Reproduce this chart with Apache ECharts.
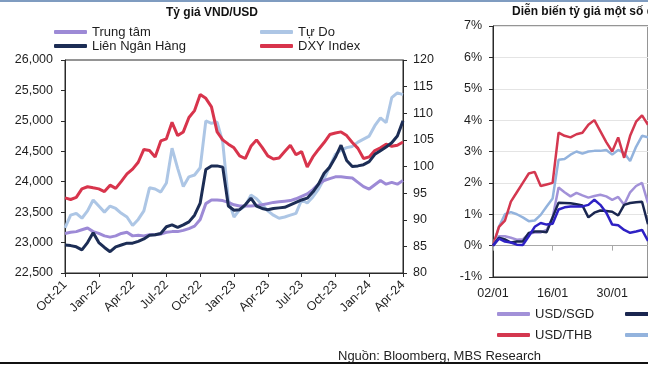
<!DOCTYPE html>
<html><head><meta charset="utf-8">
<script src="https://cdn.jsdelivr.net/npm/echarts@6/dist/echarts.min.js"></script>
<style>html,body{margin:0;padding:0;background:#fff;overflow:hidden}#c{width:648px;height:365px}</style>
</head><body><div id="c"></div>
<script>
// ---- Left chart: Tỷ giá VND/USD (semi-monthly readings) ----
const dates = [
'2021-10-01','2021-10-15','2021-11-01','2021-11-15','2021-12-01','2021-12-15',
'2022-01-01','2022-01-15','2022-02-01','2022-02-15','2022-03-01','2022-03-15',
'2022-04-01','2022-04-15','2022-05-01','2022-05-15','2022-06-01','2022-06-15',
'2022-07-01','2022-07-15','2022-08-01','2022-08-15','2022-09-01','2022-09-15',
'2022-10-01','2022-10-15','2022-11-01','2022-11-15','2022-12-01','2022-12-15',
'2023-01-01','2023-01-15','2023-02-01','2023-02-15','2023-03-01','2023-03-15',
'2023-04-01','2023-04-15','2023-05-01','2023-05-15','2023-06-01','2023-06-15',
'2023-07-01','2023-07-15','2023-08-01','2023-08-15','2023-09-01','2023-09-15',
'2023-10-01','2023-10-15','2023-11-01','2023-11-15','2023-12-01','2023-12-15',
'2024-01-01','2024-01-15','2024-02-01','2024-02-15','2024-03-01','2024-03-15',
'2024-04-01'];
const xTickLabels = ['Oct-21','Jan-22','Apr-22','Jul-22','Oct-22','Jan-23','Apr-23','Jul-23','Oct-23','Jan-24','Apr-24'];
const trungTam = [23150,23170,23180,23210,23240,23180,23150,23110,23090,23110,
 23150,23170,23110,23120,23110,23130,23130,23140,23170,23180,
 23180,23200,23230,23270,23380,23640,23700,23700,23690,23660,
 23620,23600,23600,23600,23610,23620,23640,23660,23670,23680,
 23690,23720,23760,23800,23870,23960,24020,24050,24080,24080,
 24070,24060,23990,23920,23880,23950,24020,23960,23990,23960,
 24020];
const lienNganHang = [22960,22950,22930,22880,23000,23160,23000,22920,22850,22930,
 22960,22990,22990,23020,23060,23120,23130,23150,23260,23290,
 23250,23290,23340,23450,23650,24200,24260,24260,24240,23600,
 23530,23540,23620,23730,23600,23560,23540,23560,23570,23580,
 23620,23660,23700,23730,23830,23960,24140,24240,24400,24600,
 24350,24250,24260,24280,24330,24450,24510,24570,24640,24750,
 25000];
const tuDo = [23240,23450,23480,23400,23520,23700,23600,23500,23600,23560,
 23480,23420,23280,23380,23520,23900,23880,23830,23980,24550,
 24220,23920,24080,24110,24230,25000,24960,24980,24650,23700,
 23420,23540,23600,23780,23720,23620,23520,23450,23400,23420,
 23450,23480,23700,23650,23750,23880,24050,24250,24450,24520,
 24560,24580,24650,24700,24750,24920,25050,24970,25380,25460,
 25430];
const dxy = [94.1,93.8,94.2,95.8,96.2,96.0,95.8,95.3,96.5,95.9,
 97.2,98.6,99.5,100.8,103.2,103.0,101.8,104.8,105.2,108.3,
 105.8,106.5,109.2,110.5,113.5,112.8,111.2,106.5,105.0,104.2,
 103.5,102.0,101.5,103.8,105.0,103.6,102.0,101.4,101.6,102.8,
 104.0,102.2,102.8,99.9,101.8,103.2,104.5,106.0,106.3,106.5,
 105.8,104.5,103.4,101.5,101.8,103.0,103.5,104.2,103.8,104.0,
 104.6];

// ---- Right chart: % change since 02/01 (business days) ----
const rDates = ['02/01','03/01','04/01','05/01','08/01','09/01','10/01','11/01','12/01','15/01',
 '16/01','17/01','18/01','19/01','22/01','23/01','24/01','25/01','26/01','29/01',
 '30/01','31/01','01/02','02/02','05/02','06/02','07/02'];
const usdSgd = [0,0.3,0.3,0.25,0.19,0.2,0.38,0.42,0.42,0.5,0.9,1.85,1.7,1.57,1.68,1.6,1.53,1.58,1.62,1.57,1.46,1.55,1.3,1.7,1.9,2.0,1.35];
const usdThb = [0,0.6,0.8,1.4,1.7,2.0,2.3,2.35,1.9,1.95,2.0,3.6,3.5,3.45,3.55,3.6,3.85,4.0,3.65,3.3,3.0,3.45,2.8,3.5,3.95,4.15,3.85];
const usdCny = [0,0.25,0.2,0.1,0.13,0.13,0.4,0.45,0.45,0.43,0.9,1.37,1.36,1.35,1.32,1.28,0.9,1.05,1.12,1.1,1.08,0.96,1.3,1.36,1.38,1.4,0.68];
const usdKrw = [0,0.6,1.0,1.07,1.0,0.9,0.78,0.8,0.98,1.25,1.5,2.74,2.76,2.9,3.0,2.93,3.0,3.02,3.02,3.05,2.9,3.05,2.95,2.7,3.15,3.5,3.45];
const usdMyr = [0,0.22,0.13,0.1,0.03,0.02,0.3,0.6,0.72,0.67,0.7,1.15,1.22,1.25,1.25,1.25,1.3,1.46,1.3,1.05,0.67,0.65,0.5,0.41,0.45,0.5,0.15];

const FONT = 'Liberation Sans, Arial, sans-serif';
const TXT = '#1e1e1e';
const AX = '#2a2a2a';

function lg(name, left, top) {
  return {data:[name], left, top, padding:0, itemWidth:33, itemHeight:4, icon:'roundRect',
    selectedMode:false, textStyle:{fontSize:13, color:TXT, fontFamily:FONT}};
}
function line(name, data, color, xi, yi, w) {
  return {name, type:'line', data, xAxisIndex:xi, yAxisIndex:yi, color,
    lineStyle:{width:w, color}, showSymbol:false, symbol:'none', animation:false};
}

const chart = echarts.init(document.getElementById('c'), null, {renderer:'canvas'});
chart.setOption({
  animation:false,
  textStyle:{fontFamily:FONT},
  grid:[
    {left:65, top:60, width:338, height:213, show:true, borderColor:AX, borderWidth:1},
    {left:493, top:26, width:156, height:251, show:true, borderColor:AX, borderWidth:1}
  ],
  xAxis:[
    {gridIndex:0, type:'category', data:dates, boundaryGap:false,
     axisLine:{lineStyle:{color:AX}}, axisTick:{interval:5, length:4, lineStyle:{color:AX}},
     axisLabel:{interval:5, rotate:45, margin:10, fontSize:12.5, color:TXT, fontFamily:FONT,
       formatter:(v, i) => xTickLabels[Math.round(i/6)]}},
    {gridIndex:1, type:'category', data:rDates, boundaryGap:false, position:'bottom',
     axisLine:{onZero:false, lineStyle:{color:AX}}, axisTick:{show:false},
     axisLabel:{interval:9, margin:10, fontSize:12.5, color:TXT, fontFamily:FONT}},
    {gridIndex:1, type:'category', data:rDates, boundaryGap:false, position:'bottom',
     axisLine:{onZero:true, lineStyle:{color:'#a8a8a8'}},
     axisTick:{interval:9, length:5, lineStyle:{color:'#a8a8a8'}}, axisLabel:{show:false}}
  ],
  yAxis:[
    {gridIndex:0, type:'value', min:22500, max:26000, interval:500, position:'left',
     axisLine:{show:true, lineStyle:{color:AX}}, axisTick:{show:true, length:4, lineStyle:{color:AX}},
     splitLine:{show:false},
     axisLabel:{margin:12, fontSize:12.5, color:TXT, fontFamily:FONT, formatter:v => v.toLocaleString('en-US')}},
    {gridIndex:0, type:'value', min:80, max:120, interval:5, position:'right',
     axisLine:{show:true, lineStyle:{color:AX}}, axisTick:{show:true, length:4, lineStyle:{color:AX}},
     splitLine:{show:false},
     axisLabel:{margin:10, fontSize:12.5, color:TXT, fontFamily:FONT}},
    {gridIndex:1, type:'value', min:-1, max:7, interval:1, position:'left',
     axisLine:{show:true, lineStyle:{color:AX}}, axisTick:{show:true, length:4, lineStyle:{color:AX}},
     splitLine:{show:true, lineStyle:{color:'#e4e4e4'}},
     axisLabel:{margin:11, fontSize:12.5, color:TXT, fontFamily:FONT, formatter:'{value}%'}}
  ],
  legend:[
    lg('Trung tâm',54,25.5), lg('Liên Ngân Hàng',54,39.5),
    lg('Tự Do',260,25.5), lg('DXY Index',260,39.5),
    lg('USD/SGD',497,307.5), lg('USD/CNY',625,307.5),
    lg('USD/THB',497,328.5), lg('USD/KRW',625,328.5)
  ],
  series:[
    line('Tự Do', tuDo, '#adc6e5', 0, 0, 3),
    line('Trung tâm', trungTam, '#9d8ad6', 0, 0, 3),
    line('DXY Index', dxy, '#d8344c', 0, 1, 3),
    line('Liên Ngân Hàng', lienNganHang, '#1c2d55', 0, 0, 3),
    line('USD/KRW', usdKrw, '#93b3dd', 1, 2, 2.5),
    line('USD/THB', usdThb, '#d4374f', 1, 2, 2.5),
    line('USD/SGD', usdSgd, '#a291d8', 1, 2, 2.5),
    line('USD/CNY', usdCny, '#1a2650', 1, 2, 2.5),
    line('USD/MYR', usdMyr, '#2e21c4', 1, 2, 2.5)
  ],
  graphic:[
    {type:'rect', shape:{x:0, y:0, width:648, height:2}, style:{fill:'#7f9cc0'}, silent:true},
    {type:'rect', shape:{x:0, y:362, width:648, height:2}, style:{fill:'#111'}, silent:true},
    {type:'text', x:212, y:13, style:{text:'Tỷ giá VND/USD', fill:'#111', font:'bold 12px '+FONT, align:'center', verticalAlign:'middle'}},
    {type:'text', x:512, y:12, style:{text:'Diễn biến tỷ giá một số đồng tiền', fill:'#111', font:'bold 12px '+FONT, align:'left', verticalAlign:'middle'}},
    {type:'text', x:338, y:356, style:{text:'Nguồn: Bloomberg, MBS Research', fill:TXT, font:'13px '+FONT, align:'left', verticalAlign:'middle'}}
  ]
});
</script></body></html>
